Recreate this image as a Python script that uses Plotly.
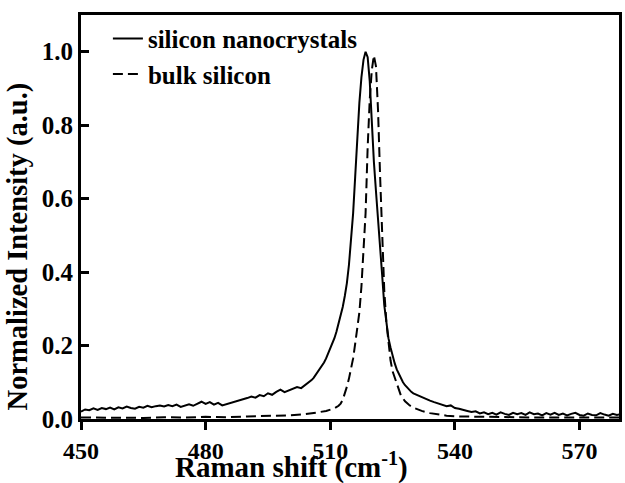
import plotly.graph_objects as go

# ---- data ----
nano_x = (list(range(450, 505))
          + [504.5 + 0.5 * i for i in range(52)]
          + list(range(531, 581)))
nano_y = [
    0.020, 0.026, 0.024, 0.029, 0.025, 0.030, 0.027, 0.031, 0.026, 0.032,
    0.029, 0.034, 0.030, 0.028, 0.033, 0.031, 0.036, 0.032, 0.035, 0.037,
    0.034, 0.038, 0.035, 0.039, 0.033, 0.037, 0.040, 0.036, 0.042, 0.047,
    0.041, 0.046, 0.039, 0.044, 0.037, 0.040, 0.043, 0.046, 0.050, 0.054,
    0.057, 0.061, 0.058, 0.065, 0.062, 0.070, 0.066, 0.074, 0.080, 0.073,
    0.077, 0.082, 0.087, 0.084, 0.093,
    # 504.5 .. 530 step 0.5
    0.097, 0.100, 0.106, 0.112, 0.120, 0.128, 0.136, 0.145, 0.154, 0.165,
    0.178, 0.190, 0.205, 0.220, 0.238, 0.258, 0.280, 0.305, 0.335, 0.370,
    0.420, 0.480, 0.560, 0.660, 0.780, 0.860, 0.930, 0.978, 1.000, 0.985,
    0.920, 0.800, 0.700, 0.620, 0.550, 0.470, 0.390, 0.310, 0.260, 0.220,
    0.195, 0.172, 0.152, 0.135, 0.122, 0.110, 0.100, 0.092, 0.085, 0.079,
    0.074, 0.070,
    # 531 .. 580
    0.065, 0.060, 0.053, 0.050, 0.046, 0.042, 0.040, 0.035, 0.037, 0.030,
    0.028, 0.024, 0.022, 0.019, 0.021, 0.015, 0.018, 0.013, 0.017, 0.012,
    0.018, 0.014, 0.011, 0.017, 0.013, 0.016, 0.011, 0.018, 0.013, 0.015,
    0.010, 0.016, 0.012, 0.017, 0.011, 0.015, 0.010, 0.014, 0.017, 0.011,
    0.009, 0.015, 0.011, 0.010, 0.016, 0.012, 0.009, 0.014, 0.011, 0.013,
]

bulk_x = [450, 455, 460, 465, 470, 475, 480, 485, 490, 495, 500, 503, 505,
          507, 509, 510, 511, 512, 512.5, 513, 513.5, 514, 514.5, 515, 515.5,
          516, 516.5, 517, 517.5, 518, 518.5, 519, 519.5, 520, 520.5, 521,
          521.5, 522, 522.5, 523, 523.5, 524, 524.5, 525, 525.5, 526, 526.5,
          527, 528, 529, 530, 532, 534, 536, 538, 541, 545, 550, 560, 570, 580]
bulk_y = [0.004, 0.003, 0.004, 0.003, 0.005, 0.004, 0.006, 0.005, 0.007, 0.008,
          0.010, 0.012, 0.014, 0.018, 0.022, 0.025, 0.029, 0.036, 0.042, 0.052,
          0.068, 0.088, 0.110, 0.135, 0.165, 0.205, 0.245, 0.290, 0.360, 0.450,
          0.560, 0.740, 0.870, 0.950, 0.990, 0.960, 0.840, 0.660, 0.490, 0.350,
          0.265, 0.205, 0.160, 0.130, 0.112, 0.095, 0.078, 0.064, 0.048, 0.038,
          0.031, 0.022, 0.016, 0.012, 0.009, 0.007, 0.006, 0.005, 0.004, 0.004,
          0.004]

series_names = ["silicon nanocrystals", "bulk silicon"]
x_ticks = [450, 480, 510, 540, 570]
y_ticks = [0.0, 0.2, 0.4, 0.6, 0.8, 1.0]
y_tick_labels = ["0.0", "0.2", "0.4", "0.6", "0.8", "1.0"]
x_title = "Raman shift (cm<sup>-1</sup>)"
y_title = "Normalized Intensity (a.u.)"

FONT = "Liberation Serif"

fig = go.Figure()
fig.add_trace(go.Scatter(x=nano_x, y=nano_y, mode="lines",
                         name=series_names[0],
                         line=dict(color="black", width=2)))
fig.add_trace(go.Scatter(x=bulk_x, y=bulk_y, mode="lines",
                         name=series_names[1],
                         line=dict(color="black", width=2, dash="10px,5px")))

fig.update_layout(
    width=625, height=483,
    margin=dict(l=81, r=3, t=15, b=64),
    paper_bgcolor="white", plot_bgcolor="white",
    font=dict(family=FONT, color="black", size=24, weight="bold"),
    showlegend=True,
    legend=dict(x=0.05, y=0.998, xanchor="left", yanchor="top",
                bgcolor="rgba(0,0,0,0)",
                font=dict(size=25, family=FONT, weight="bold"),
                tracegroupgap=0),
    xaxis=dict(range=[450, 579.5], tickvals=x_ticks,
               ticktext=[str(v) for v in x_ticks],
               ticks="outside", ticklen=8, tickwidth=3, tickcolor="black",
               showline=True, linewidth=3, linecolor="black", mirror=True,
               showgrid=False, zeroline=False,
               tickfont=dict(size=24, family=FONT, weight="bold")),
    yaxis=dict(range=[0, 1.1], tickvals=y_ticks, ticktext=y_tick_labels,
               ticks="inside", ticklen=8, tickwidth=3, tickcolor="black",
               showline=True, linewidth=3, linecolor="black", mirror=True,
               showgrid=False, zeroline=False,
               tickfont=dict(size=25, family=FONT, weight="bold")),
    annotations=[
        dict(text=x_title, xref="paper", yref="paper",
             x=0.392, y=-0.114, xanchor="center", yanchor="middle",
             showarrow=False, font=dict(size=29, family=FONT, weight="bold")),
        dict(text=y_title, xref="paper", yref="paper", textangle=-90,
             x=-0.1165, y=0.428, xanchor="center", yanchor="middle",
             showarrow=False, font=dict(size=28.5, family=FONT, weight="bold")),
    ],
)

fig.write_html("out.html")
